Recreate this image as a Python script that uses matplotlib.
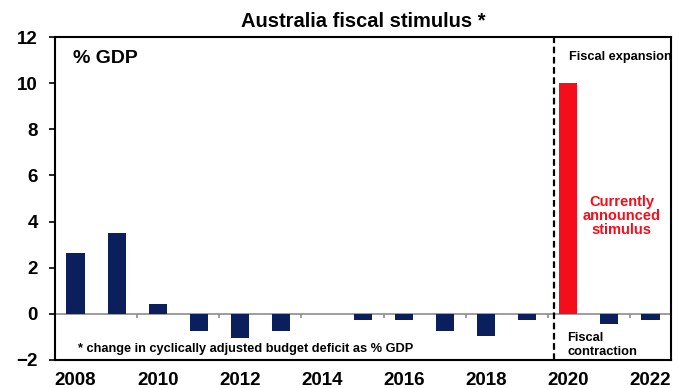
import numpy as np
import matplotlib
matplotlib.use('Agg')
import matplotlib.pyplot as plt

years = list(range(2008, 2023))
stimulus = [2.62, 3.52, 0.42, -0.76, -1.05, -0.75, 0.0, -0.26, -0.26, -0.73,
            -0.94, -0.26, 10.0, -0.45, -0.26]
announced_year = 2020

plt.rcParams['font.family'] = ['Liberation Sans', 'DejaVu Sans']
plt.rcParams['font.weight'] = 'bold'

fig = plt.figure(figsize=(6.84, 3.88), dpi=100)
ax = fig.add_axes([0.0804, 0.0722, 0.9006, 0.8324])

x = np.arange(len(years))
colors = ['#F40D1A' if y == announced_year else '#0A1F5C' for y in years]
ax.bar(x, stimulus, width=0.44, color=colors, zorder=3)

ax.axhline(0, color='#8C8C8C', lw=1.2, zorder=2)
# small ticks on the zero line between every other pair of bars
ax.vlines(np.arange(1.5, len(years) - 1, 2), -0.2, 0, color='#8C8C8C', lw=1.2, zorder=2)

i20 = years.index(announced_year)
ax.axvline(i20 - 0.35, color='black', lw=1.6, ls=(0, (3, 1.6)), zorder=4)

ax.set_xlim(-0.5, len(years) - 0.5)
ax.set_ylim(-2, 12)
ax.set_yticks(np.arange(-2, 13, 2))
ax.set_xticks(x[::2])
ax.set_xticklabels([str(y) for y in years[::2]])
ax.tick_params(axis='x', length=0, pad=9, labelsize=13.5)
ax.tick_params(axis='y', length=4.5, width=1.2, direction='out', labelsize=13.5, pad=8)
for lab in ax.get_xticklabels() + ax.get_yticklabels():
    lab.set_fontweight('bold')
for s in ax.spines.values():
    s.set_linewidth(1.5)

ax.set_title('Australia fiscal stimulus *', fontsize=14.5, fontweight='bold', pad=7)
ax.text(0.029, 0.96, '% GDP', transform=ax.transAxes, fontsize=14,
        fontweight='bold', va='top')
ax.text(0.037, 0.034, '* change in cyclically adjusted budget deficit as % GDP',
        transform=ax.transAxes, fontsize=9.2, fontweight='bold', va='center')
ax.text(i20 + 0.01, 11.13, 'Fiscal expansion', fontsize=9.2, fontweight='bold',
        va='center', clip_on=True)
ax.text(i20 - 0.03, -1.35, 'Fiscal\ncontraction', fontsize=9.3, fontweight='bold',
        va='center', linespacing=1.15)
ax.text(i20 + 1.3, 4.25, 'Currently\nannounced\nstimulus', fontsize=10.5,
        fontweight='bold', color='#F40D1A', ha='center', va='center', linespacing=1.0)

fig.savefig('out.png', dpi=100)
